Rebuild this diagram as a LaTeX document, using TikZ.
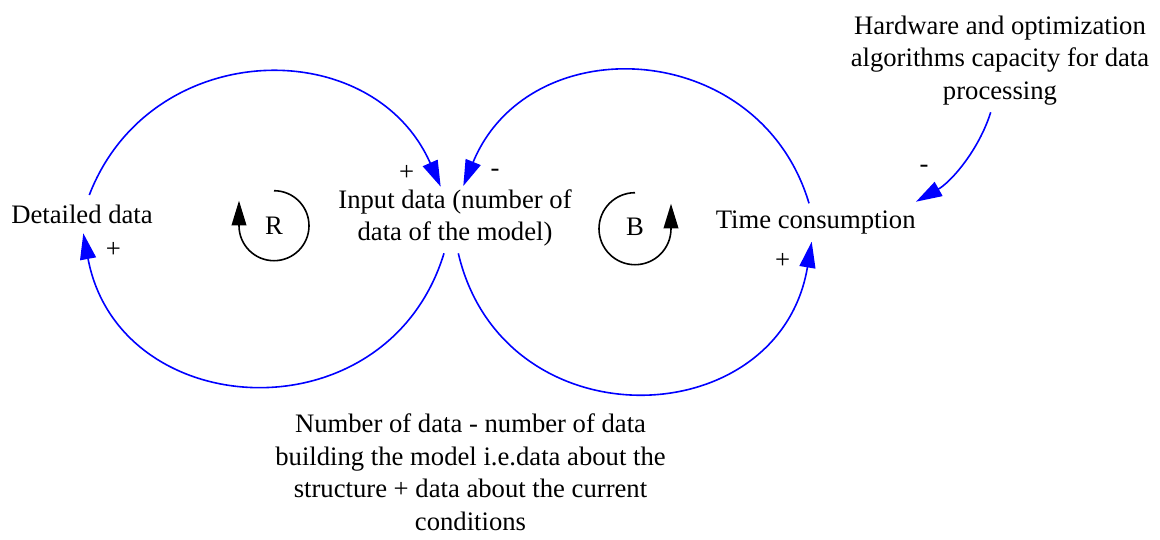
\documentclass[tikz,border=0pt]{standalone}
\usepackage{fontspec}
\setmainfont{Liberation Serif}
\usetikzlibrary{arrows.meta}
\begin{document}
\begin{tikzpicture}[x=0.75pt,y=0.75pt,
  txt/.style={font=\fontsize{20pt}{24.4pt}\selectfont, align=center, inner sep=0pt, anchor=north, execute at begin node={\rule{0pt}{16pt}}},
  sgn/.style={font=\fontsize{20pt}{24pt}\selectfont, inner sep=0pt},
  link/.style={draw=blue, line width=1.2pt, -{Triangle[length=19.5pt,width=12pt,fill=blue]}},
  loopar/.style={draw=black, line width=1.2pt, -{Triangle[length=18.5pt,width=11pt,fill=black]}}]
\useasboundingbox (0,0) rectangle (1160,-539);

% variables
\node[txt] (hw) at (1000,-15.4) {Hardware and optimization\\algorithms capacity for data\\processing};
\node[txt] (inp) at (455,-189.4) {Input data (number of\\data of the model)};
\node[txt] (time) at (815.7,-207) {Time consumption};
\node[txt] (det) at (82,-201.4) {Detailed data};
\node[txt] (num) at (470.5,-413.7) {Number of data - number of data\\building the model i.e.data about the\\structure + data about the current\\conditions};

% connector end points
\coordinate (s1) at (89.3,-195);
\coordinate (e1) at (440.7,-186.7);
\coordinate (s2) at (444,-253.3);
\coordinate (e2) at (83.3,-233.3);
\coordinate (s3) at (809,-203.3);
\coordinate (e3) at (463.3,-186);
\coordinate (s4) at (458.3,-253.3);
\coordinate (e4) at (811.7,-241.7);
\coordinate (s5) at (990.7,-112.3);
\coordinate (e5) at (916,-201.7);

% links
\draw[link] (s1) to[out=68.9,in=113.9,looseness=1.23] (e1);
\draw[link] (s2) to[out=-107,in=-79.4,looseness=1.375] (e2);
\draw[link] (s3) to[out=106.6,in=67.6,looseness=1.277] (e3);
\draw[link] (s4) to[out=-76.8,in=-99.5,looseness=1.422] (e4);
\draw[link] (s5) to[out=-107.5,in=29.4,looseness=0.88] (e5);

% polarities
\node[sgn] (p1) at (406.7,-173.3) {+};
\node[sgn] (m1) at (495,-173.3) {-};
\node[sgn] (p2) at (113.3,-250) {+};
\node[sgn] (p3) at (782.7,-261) {+};
\node[sgn] (m2) at (924,-169) {-};

% loop markers
\node[sgn] (R) at (274,-225.7) {R};
\node[sgn] (B) at (635,-227.3) {B};
\coordinate (rtop) at (274,-190.7);
\coordinate (btop) at (635,-192.7);
\draw[loopar] (rtop) arc[start angle=90,end angle=-180,radius=35] -- ++(0,25);
\draw[loopar] (btop) arc[start angle=90,end angle=360,radius=36] -- ++(0,25);
\end{tikzpicture}
\end{document}
